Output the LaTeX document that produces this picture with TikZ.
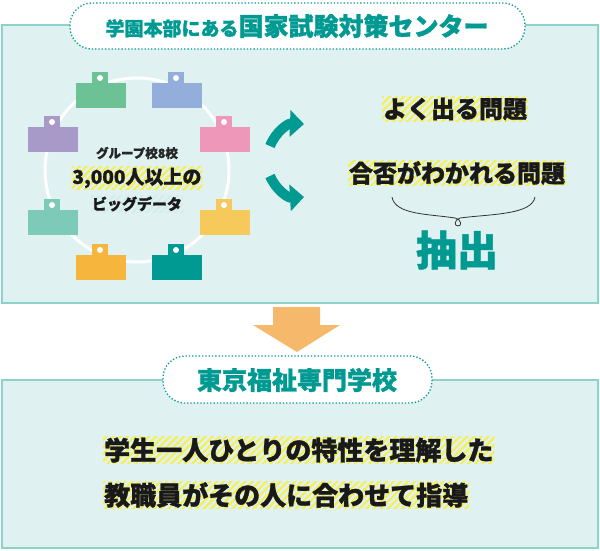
\documentclass[tikz,border=0pt]{standalone}
\usepackage{fontspec}
\setmainfont{Noto Sans CJK JP}
\newfontfamily\jpb{Noto Sans CJK JP}[FakeBold=1.2]
\usetikzlibrary{patterns.meta,arrows.meta}
\definecolor{teal1}{HTML}{009A93}
\definecolor{panel}{HTML}{DFF1F1}
\definecolor{pborder}{HTML}{8ED2CC}
\definecolor{hy}{HTML}{F8F04A}
\definecolor{ora}{HTML}{F6B86A}
\definecolor{tgreen}{HTML}{6CC195}
\definecolor{tblue}{HTML}{94AEDC}
\definecolor{tpink}{HTML}{EE97B8}
\definecolor{tpurple}{HTML}{A89AC8}
\definecolor{tmint}{HTML}{7ECAB9}
\definecolor{tyellow}{HTML}{F5C95A}
\definecolor{torange}{HTML}{F6B63E}
\tikzset{
 panelbox/.style={fill=panel,draw=pborder,line width=1.5pt},
 pill/.style={fill=white,draw=teal1,dotted,line width=1.3pt,rounded corners=22pt},
 hl/.style={pattern={Lines[angle=45,distance=5pt,line width=2pt]},pattern color=hy,inner sep=1pt,text=black!90},
 hlg/.style={pattern={Lines[angle=45,distance=5pt,line width=2pt]},pattern color=pborder!40,inner sep=1pt,text=black!90},
}
\newcommand\tablet[3]{% x y color
 \fill[#3] (#1,#2) rectangle ++(50,-25);
 \fill[#3] (#1+16,#2-25) rectangle ++(16,-11);
 \fill[white] (#1+24,#2-30) circle (3);
}
\begin{document}
\begin{tikzpicture}[x=1pt,y=-1pt]
\useasboundingbox (0,0) rectangle (600,550);
\draw[panelbox] (2,25) rectangle (598,303);
\draw[panelbox] (2,380) rectangle (598,548);
\draw[pill] (70,3) rectangle (525,49);
\node (t1) at (297,26) {\textcolor{teal1}{\jpb\bfseries\fontsize{19}{19}\selectfont 学園本部にある\fontsize{25}{25}\selectfont 国家試験対策センター}};
\draw[white,line width=3pt] (137,170) circle (92);
\tablet{76}{108}{tgreen}
\tablet{152}{108}{tblue}
\tablet{200}{152}{tpink}
\tablet{28}{152}{tpurple}
\tablet{28}{235}{tmint}
\tablet{200}{235}{tyellow}
\tablet{76}{280}{torange}
\tablet{152}{280}{teal1}
\node[font=\jpb\bfseries\fontsize{12.5}{12.5}\selectfont,text=black!85] (c1) at (137,153) {グループ校8校};
\node[hl,font=\jpb\bfseries\fontsize{19}{19}\selectfont] (c2) at (137,178) {3,000人以上の};
\node[hlg,font=\jpb\bfseries\fontsize{15}{15}\selectfont] (c3) at (137,204) {ビッグデータ};
\draw[teal1,line width=10pt,-{Triangle[length=14pt,width=26pt]}] (270,146) to[bend left=35] (304,124);
\draw[teal1,line width=10pt,-{Triangle[length=14pt,width=26pt]}] (270,176) to[bend right=35] (304,197);
\node[hl,font=\jpb\bfseries\fontsize{24}{24}\selectfont] (q1) at (455,109) {よく出る問題};
\node[hl,font=\jpb\bfseries\fontsize{24}{24}\selectfont] (q2) at (457,173) {合否がわかれる問題};
\draw[black!80,line width=0.8pt] (392,197) .. controls (395,215) and (430,214) .. (455,218) .. controls (462,220) and (462,226) .. (458,226) .. controls (454,226) and (454,220) .. (460,218) .. controls (490,214) and (532,215) .. (535,197);
\node[text=teal1,font=\jpb\bfseries\fontsize{41}{41}\selectfont] (ex) at (457,250) {抽出};
\fill[ora] (273,307) -- (320,307) -- (320,325) -- (340,325) -- (297,352) -- (253,325) -- (273,325) -- cycle;
\draw[pill] (163,356) rectangle (432,403);
\node[text=teal1,font=\jpb\bfseries\fontsize{25}{25}\selectfont] (t2) at (297,380) {東京福祉専門学校};
\node[hl,anchor=west,font=\jpb\bfseries\fontsize{26}{26}\selectfont] (l1) at (103,450) {学生一人ひとりの特性を理解した};
\node[hl,anchor=west,font=\jpb\bfseries\fontsize{26}{26}\selectfont] (l2) at (103,495) {教職員がその人に合わせて指導};
\end{tikzpicture}
\end{document}
